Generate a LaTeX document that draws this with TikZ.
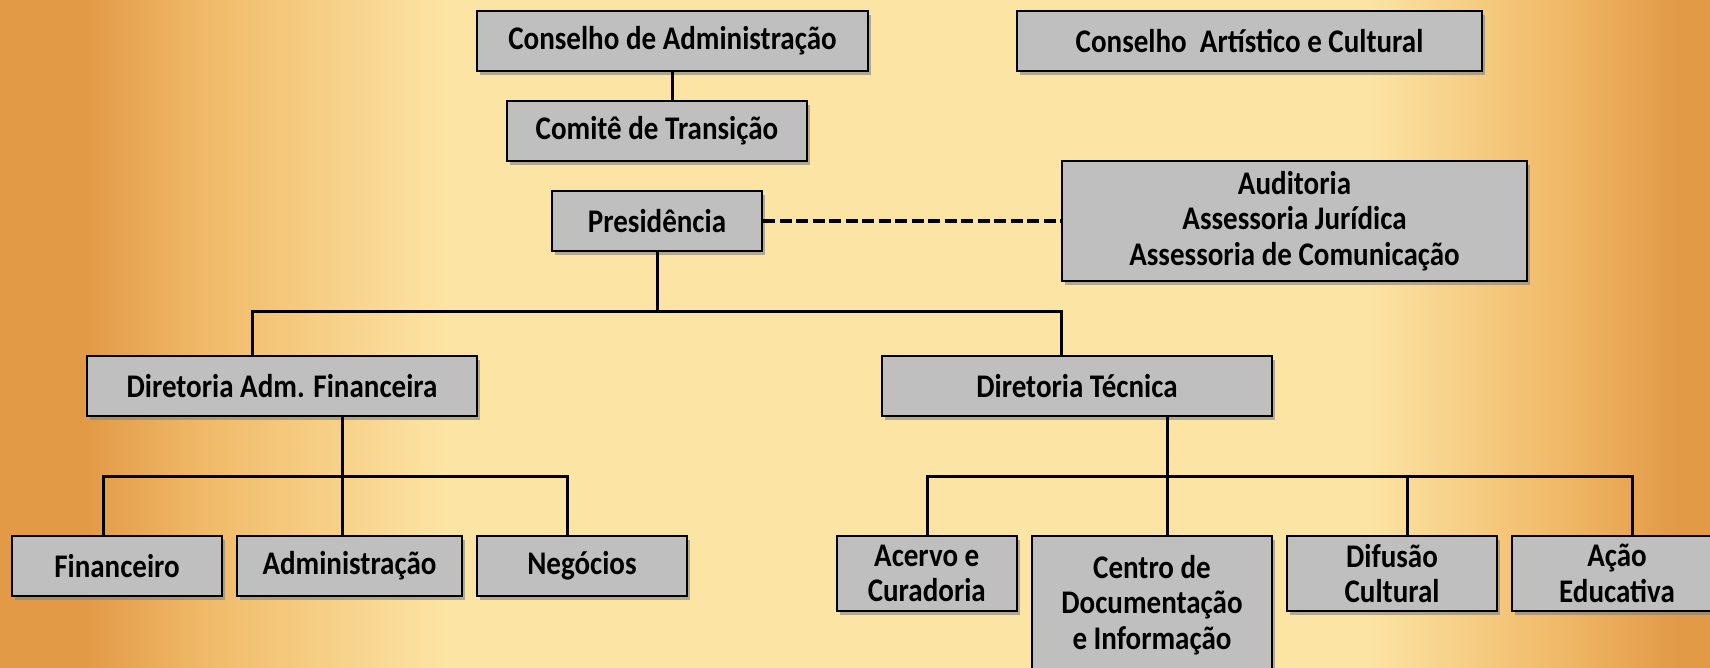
\documentclass[tikz,border=0pt]{standalone}
\usepackage{fontspec}
\setmainfont{Carlito}[FakeStretch=0.88]
\usetikzlibrary{shadows}

\definecolor{bgedge}{HTML}{E29A47}
\definecolor{bgwarm}{HTML}{F0BA68}
\definecolor{bgpale}{HTML}{FCE4A4}
\definecolor{boxgray}{HTML}{BFBFBF}

\pgfdeclarehorizontalshading{paper}{100bp}{color(0bp)=(bgedge); color(25bp)=(bgedge);
  color(27.5bp)=(bgedge); color(31bp)=(bgwarm); color(38bp)=(bgpale); color(65bp)=(bgpale);
  color(70.5bp)=(bgwarm); color(74bp)=(bgedge); color(100bp)=(bgedge)}

\tikzset{
  orgbox/.style={draw=black, line width=2.4pt, fill=boxgray, inner sep=0pt,
    align=center, minimum height=60pt,
    font=\bfseries\fontsize{33}{35.5}\selectfont,
    drop shadow={shadow xshift=3pt, shadow yshift=-4pt, opacity=0.6}},
  link/.style={line width=3pt, draw=black},
}

\begin{document}
\begin{tikzpicture}[x=1pt, y=-1pt]
  \useasboundingbox (0,0) rectangle (1710,668);
  \clip (0,0) rectangle (1710,668);
  \shade[shading=paper] (0,0) rectangle (1710,668);

  % upper part
  \node[orgbox, minimum width=391pt] (cadm) at (672.5,41) {Conselho de Administração};
  \node[orgbox, minimum width=465pt] (cart) at (1249.5,41) {Conselho\ \ Artístico e Cultural};
  \node[orgbox, minimum width=300pt] (comite) at (657,131) {Comitê de Transição};
  \node[orgbox, minimum width=210pt] (pres) at (657,221) {Presidência};
  \node[orgbox, minimum width=465pt, minimum height=120pt] (assess) at (1294.5,221)
    {Auditoria\\Assessoria Jurídica\\Assessoria de Comunicação};

  % diretorias
  \node[orgbox, minimum width=390pt] (dadm) at (282,386) {Diretoria Adm. Financeira};
  \node[orgbox, minimum width=390pt] (dtec) at (1077,386) {Diretoria Técnica};

  % areas
  \node[orgbox, minimum width=210pt] (fin) at (117,566) {Financeiro};
  \node[orgbox, minimum width=225pt] (adm) at (349.5,566) {Administração};
  \node[orgbox, minimum width=210pt] (neg) at (582,566) {Negócios};
  \node[orgbox, minimum width=180pt, minimum height=75pt] (acv) at (926.75,573.5) {Acervo e\\Curadoria};
  \node[orgbox, minimum width=240pt, minimum height=138pt] (cdi) at (1152,605) {Centro de\\Documentação\\e Informação};
  \node[orgbox, minimum width=210pt, minimum height=75pt] (dif) at (1392,573.5) {Difusão\\Cultural};
  \node[orgbox, minimum width=210pt, minimum height=75pt] (acao) at (1617,573.5) {Ação\\Educativa};

  % branch points
  \coordinate (pL) at (252,311);
  \coordinate (pR) at (1061,311);
  \coordinate (aL) at (103,476);
  \coordinate (aM) at (342,476);
  \coordinate (aR) at (567,476);
  \coordinate (tL) at (927,476);
  \coordinate (tM) at (1167,476);
  \coordinate (tN) at (1407,476);
  \coordinate (tR) at (1632,476);

  \draw[link] (cadm.south) -- (cadm.south |- comite.north);
  \draw[link, dash pattern=on 12pt off 4.5pt, line width=3.5pt] (pres.east) -- (assess.west);

  \draw[link] (pres.south) -- (pres.south |- pL);
  \draw[link] (dadm.north -| pL) -- (pL) -- (pR) -- (dtec.north -| pR);

  \draw[link] (dadm.south -| aM) -- (aM) -- (adm.north -| aM);
  \draw[link] (fin.north -| aL) -- (aL) -- (aR) -- (neg.north -| aR);

  \draw[link] (dtec.south -| tM) -- (tM) -- (cdi.north -| tM);
  \draw[link] (acv.north -| tL) -- (tL) -- (tR) -- (acao.north -| tR);
  \draw[link] (tN) -- (dif.north -| tN);
\end{tikzpicture}
\end{document}
